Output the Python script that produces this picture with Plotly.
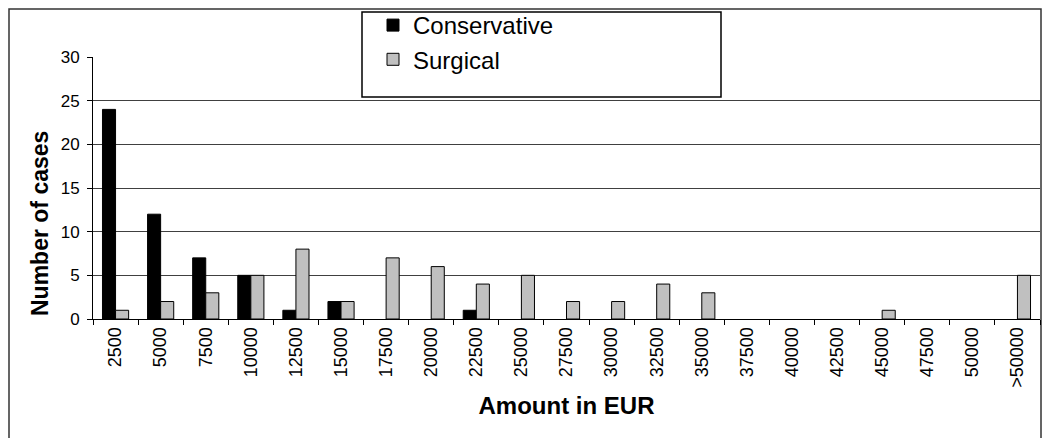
import plotly.graph_objects as go

categories = ["2500", "5000", "7500", "10000", "12500", "15000", "17500", "20000",
              "22500", "25000", "27500", "30000", "32500", "35000", "37500", "40000",
              "42500", "45000", "47500", "50000", ">50000"]
conservative = [24, 12, 7, 5, 1, 2, 0, 0, 1, 0, 0, 0, 0, 0, 0, 0, 0, 0, 0, 0, 0]
surgical = [1, 2, 3, 5, 8, 2, 7, 6, 4, 5, 2, 2, 4, 3, 0, 0, 0, 1, 0, 0, 5]

W, H = 1042, 438
L, R, T, B = 93, 2, 57, 119
pw, ph = W - L - R, H - T - B

def px_x(x):
    return (x - L) / pw

def px_y(y):
    return (H - B - y) / ph

FONT = "Liberation Sans, Arial, sans-serif"

def nz(vals):
    # zero-count bins draw no bar (no outline stub)
    return [v if v else None for v in vals]

fig = go.Figure()
fig.add_trace(go.Bar(x=categories, y=nz(conservative), name="Conservative",
                     marker=dict(color="black", line=dict(color="black", width=1))))
fig.add_trace(go.Bar(x=categories, y=nz(surgical), name="Surgical",
                     marker=dict(color="#C0C0C0", line=dict(color="black", width=1))))

fig.update_layout(
    width=W, height=H,
    margin=dict(l=L, r=R, t=T, b=B, autoexpand=False),
    paper_bgcolor="white", plot_bgcolor="white",
    barmode="group", bargap=0.42, bargroupgap=0,
    font=dict(family=FONT, color="black", size=17),
    showlegend=True,
    legend=dict(x=px_x(373), y=px_y(3), xanchor="left", yanchor="top",
                bgcolor="rgba(0,0,0,0)", borderwidth=0,
                font=dict(family=FONT, size=24, color="black"),
                tracegroupgap=0),
    xaxis=dict(type="category", tickson="boundaries", ticks="outside", ticklen=5,
               tickcolor="black", showline=True, linecolor="black", linewidth=1,
               tickangle=-90, tickfont=dict(size=18), showgrid=False,
               title=dict(text="<b>Amount in EUR</b>", font=dict(size=24), standoff=10)),
    yaxis=dict(range=[0, 30], dtick=5, ticks="outside", ticklen=5, tickcolor="black",
               showline=True, linecolor="black", linewidth=1,
               showgrid=True, gridcolor="#404040", gridwidth=1,
               tickfont=dict(size=17), zeroline=False, ticklabelstandoff=4),
    annotations=[
        dict(text="<b>Number of cases</b>", textangle=-90, xref="paper", yref="paper",
             x=px_x(40), y=px_y(224), xanchor="center", yanchor="middle",
             showarrow=False, font=dict(family=FONT, size=23, color="black")),
    ],
    shapes=[
        dict(type="rect", xref="paper", yref="paper",
             x0=px_x(9), x1=px_x(1041), y0=px_y(9), y1=px_y(460),
             line=dict(color="#333333", width=1.5), fillcolor="rgba(0,0,0,0)", layer="below"),
        dict(type="rect", xref="paper", yref="paper",
             x0=px_x(362), x1=px_x(721), y0=px_y(97), y1=px_y(12),
             line=dict(color="black", width=1.5), fillcolor="white", layer="above"),
    ],
)

fig.write_html("out.html")
